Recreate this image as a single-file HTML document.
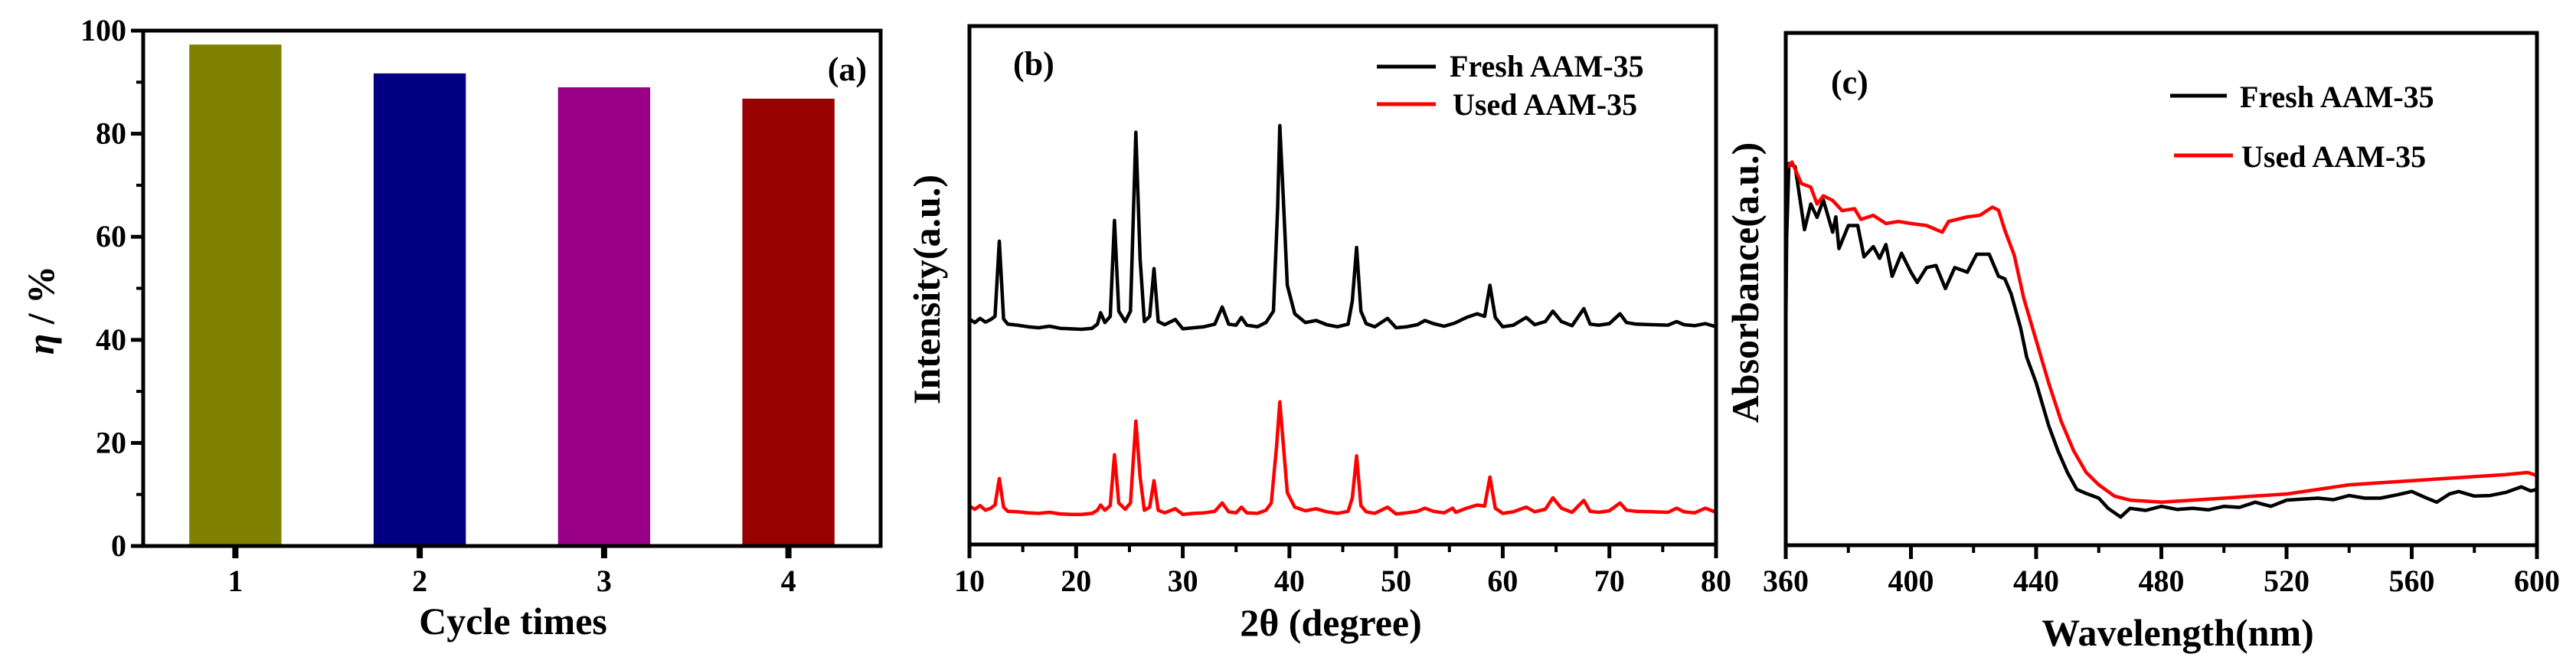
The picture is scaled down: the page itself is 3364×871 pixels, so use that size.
<!DOCTYPE html>
<html><head><meta charset="utf-8"><style>
html,body{margin:0;padding:0;background:#fff;width:3364px;height:871px;overflow:hidden}
svg{display:block}
text{font-family:"Liberation Serif",serif;font-weight:bold;fill:#000}
</style></head><body>
<svg id="fig" width="3364" height="871" viewBox="0 0 3364 871" xmlns="http://www.w3.org/2000/svg"></svg>
<script>
// ---------- Panel (a) data ----------
const cycleCategories = [1, 2, 3, 4];
const efficiencyValues = [97.3, 91.7, 89.0, 86.8];
const barColors = ["#808000", "#000080", "#990087", "#990000"];
const aYTicks = [0, 20, 40, 60, 80, 100];

// ---------- Panel (b) data (2theta, intensity) ----------
const xrdXTicks = [10, 20, 30, 40, 50, 60, 70, 80];
const xrdFresh = [[10,43.5],[10.5,42.8],[11,43.6],[11.5,42.9],[12,43.4],[12.4,44],[12.8,58.5],[13.2,43.5],[13.6,42.5],[14.5,42.3],[15.5,42],[16.5,41.8],[17.5,42.1],[18.5,41.7],[19.5,41.6],[20.5,41.5],[21.5,41.7],[22,42.5],[22.3,44.7],[22.7,42.8],[23.2,44],[23.6,62.5],[24,45],[24.6,43],[25.1,45],[25.6,79.5],[26,55],[26.4,43],[26.9,44],[27.3,53.2],[27.7,43],[28.3,42.4],[29.3,43.4],[30,41.6],[31,41.8],[32,42],[33,42.5],[33.7,45.8],[34.3,42.5],[35,42.3],[35.5,43.8],[36,42.3],[37,42],[37.8,42.8],[38.5,45],[38.9,65],[39.1,80.8],[39.4,68],[39.8,50],[40.5,44.5],[41.5,42.8],[42.5,43.2],[43.5,42.4],[44.5,42],[45.5,42.5],[45.9,47],[46.3,57.3],[46.7,45],[47.2,42.6],[48,42],[49.2,43.6],[50,41.8],[51,42],[52,42.4],[52.7,43.2],[53.5,42.6],[54.5,42.1],[55.5,42.7],[56.6,43.8],[57.6,44.5],[58.3,44],[58.8,50],[59.3,43.8],[60,42],[61,42.3],[62.2,43.8],[63,42.4],[64,43],[64.7,45],[65.5,43],[66.5,42.2],[67.6,45.5],[68.2,42.5],[69,42.3],[70,42.6],[71,44.5],[71.6,42.8],[72.5,42.5],[74,42.4],[75.5,42.3],[76.3,43],[77,42.4],[78,42.2],[79,42.6],[80,42]];
const xrdUsed = [[10,7.4],[10.5,6.8],[11,7.5],[11.5,6.6],[12,7],[12.4,7.6],[12.8,12.7],[13.2,7.2],[13.6,6.4],[14.5,6.3],[15.5,6.1],[16.5,6],[17.5,6.2],[18.5,5.9],[19.5,5.8],[20.5,5.8],[21.5,6],[22,6.6],[22.3,7.6],[22.7,6.6],[23.2,7.5],[23.6,17.3],[24,8],[24.6,6.8],[25.1,8],[25.6,23.8],[26,13],[26.4,6.6],[26.9,7.2],[27.3,12.3],[27.7,6.6],[28.3,6.1],[29.3,6.9],[30,5.8],[31,6],[32,6.1],[33,6.4],[33.7,8],[34.3,6.3],[35,6.1],[35.5,7.2],[36,6.1],[37,6],[37.8,6.6],[38.3,8],[38.8,19],[39.1,27.5],[39.4,20],[39.8,10],[40.5,7.2],[41.5,6.5],[42.5,6.9],[43.5,6.3],[44.5,6],[45.5,6.4],[45.9,9],[46.3,17.1],[46.7,7.5],[47.2,6.3],[48,6],[49.2,7.2],[50,5.9],[51,6.1],[52,6.4],[52.7,7],[53.5,6.4],[54.5,6.1],[55.3,7],[55.6,6.2],[56.6,7],[57.6,7.6],[58.3,7.4],[58.8,13],[59.3,7],[60,6],[61,6.3],[62.2,7.2],[63,6.3],[64,6.8],[64.7,9],[65.5,7],[66.5,6.2],[67.6,8.5],[68.2,6.4],[69,6.2],[70,6.5],[71,8],[71.6,6.6],[72.5,6.4],[74,6.3],[75.5,6.2],[76.3,7],[77,6.3],[78,6.1],[79,7],[80,6.2]];

// ---------- Panel (c) data (wavelength, absorbance) ----------
const uvXTicks = [360, 400, 440, 480, 520, 560, 600];
const uvFresh = [[360,41],[360.3,60],[361,74.5],[363,73.9],[366,61.6],[368,66.6],[370,64],[372,67.4],[375,61.1],[376,64.1],[377,57.9],[380,62.4],[383,62.4],[385,56.3],[388,58.3],[390,56],[392,58.7],[394,52.5],[397,57],[400,53.3],[402,51.3],[405,54.2],[408,54.6],[411,50.1],[414,54.2],[418,53.3],[421,56.8],[425,56.8],[428,52.5],[430,52],[432,49.1],[435,42.5],[437,36.7],[440,31.7],[444,23.4],[447,18.4],[450,14.2],[453,10.9],[456,10.1],[460,9.2],[463,7.2],[467,5.5],[470,7.2],[475,6.8],[480,7.6],[485,7],[490,7.2],[495,6.9],[500,7.6],[505,7.4],[510,8.4],[515,7.6],[520,8.8],[525,9],[530,9.2],[535,8.9],[540,9.7],[545,9.2],[550,9.2],[555,9.8],[560,10.5],[564,9.4],[568,8.4],[572,10],[575,10.5],[580,9.6],[585,9.7],[590,10.3],[595,11.4],[598,10.6],[600,10.9]];
const uvUsed = [[360,73.5],[362,74.8],[365,70.6],[368,69.9],[370,66.6],[372,68.2],[375,67.3],[378,65.3],[382,65.7],[384,63.6],[388,64.4],[392,62.8],[396,63.2],[400,62.8],[405,62.4],[410,61.1],[412,63.2],[418,64.1],[422,64.4],[426,66],[428,65.4],[430,61.5],[433,56.6],[436,48.3],[440,40],[444,31.7],[448,24.2],[452,18.4],[456,14.2],[460,11.8],[465,9.6],[470,8.8],[480,8.4],[490,8.8],[500,9.2],[510,9.6],[520,10],[530,10.9],[540,11.8],[550,12.2],[560,12.6],[570,13],[580,13.4],[590,13.8],[597,14.2],[600,13.6]];

const NS = "http://www.w3.org/2000/svg";
const svg = document.getElementById("fig");
function mk(tag, attrs, parent) {
  const e = document.createElementNS(NS, tag);
  for (const k in attrs) e.setAttribute(k, attrs[k]);
  (parent || svg).appendChild(e);
  return e;
}
function txt(str, attrs, parent) { const t = mk("text", attrs, parent); t.textContent = str; return t; }

// ================= Panel (a) =================
const A = {l:187, r:1150, t:40, b:713};
const ax = v => A.l + (v - 0.5) / 4 * (A.r - A.l);
const ay = v => A.b - v / 100 * (A.b - A.t);
const gA = mk("g", {});


cycleCategories.forEach((c, i) => {
  const w = (ax(1.25) - ax(0.75));
  const r = mk("rect", {x: ax(c) - w/2, y: ay(efficiencyValues[i]), width: w, height: ay(0) - ay(efficiencyValues[i]), fill: barColors[i]}, gA);
  
  
});
const frameA = mk("rect", {x:A.l, y:A.t, width:A.r-A.l, height:A.b-A.t, fill:"none", stroke:"#000", "stroke-width":5}, gA);


aYTicks.forEach(v => {
  mk("line", {x1:A.l-16, x2:A.l, y1:ay(v), y2:ay(v), stroke:"#000", "stroke-width":5}, gA);
  if (v < 100) mk("line", {x1:A.l-9, x2:A.l, y1:ay(v+10), y2:ay(v+10), stroke:"#000", "stroke-width":4}, gA);
  const t = txt(String(v), {x:A.l-22, y:ay(v)+13, "font-size":40, "text-anchor":"end"}, gA);
  
  
});
cycleCategories.forEach(c => {
  mk("line", {x1:ax(c), x2:ax(c), y1:A.b, y2:A.b+16, stroke:"#000", "stroke-width":8}, gA);
  const t = txt(String(c), {x:ax(c), y:772, "font-size":40, "text-anchor":"middle"}, gA);
  
  
});
const atl = txt("Cycle times", {x:670, y:828, "font-size":50, "text-anchor":"middle"}, gA);


const aytl = mk("text", {x:0, y:0, "font-size":50, "text-anchor":"middle", transform:"translate(70,405) rotate(-90)"}, gA);


aytl.innerHTML = '<tspan font-style="italic">η</tspan> / %';
const alab = txt("(a)", {x:1132, y:105, "font-size":44, "text-anchor":"end"}, gA);



// ================= line panel helper =================
function linePanel(P, xmin, xmax, ticks, minorStep, series, name) {
  const g = mk("g", {});
  
  
  const sx = v => P.l + (v - xmin) / (xmax - xmin) * (P.r - P.l);
  const sy = v => P.b - v / 100 * (P.b - P.t);
  series.forEach(s => {
    const p = mk("polyline", {points: s.data.map(d => sx(d[0]).toFixed(1) + "," + sy(d[1]).toFixed(1)).join(" "), fill:"none", stroke:s.color, "stroke-width":4.5, "stroke-linejoin":"round"}, g);
    
    
  });
  const f = mk("rect", {x:P.l, y:P.t, width:P.r-P.l, height:P.b-P.t, fill:"none", stroke:"#000", "stroke-width":5}, g);
  
  
  ticks.forEach((v, i) => {
    mk("line", {x1:sx(v), x2:sx(v), y1:P.b, y2:P.b+18, stroke:"#000", "stroke-width":5}, g);
    if (i < ticks.length - 1) mk("line", {x1:sx(v+minorStep), x2:sx(v+minorStep), y1:P.b, y2:P.b+10, stroke:"#000", "stroke-width":4}, g);
    const t = txt(String(v), {x:sx(v), y:772, "font-size":40, "text-anchor":"middle"}, g);
    
    
  });
  return g;
}

// ================= Panel (b) =================
const B = {l:1266, r:2241, t:34, b:711};
const gB = linePanel(B, 10, 80, xrdXTicks, 5, [
  {data: xrdFresh, color:"#000", name:"fresh-xrd-line"},
  {data: xrdUsed, color:"#ff0000", name:"used-xrd-line"}], "panel-b-xrd-chart");
let t;
t = txt("2θ (degree)", {x:1738, y:830, "font-size":50, "text-anchor":"middle"}, gB);
 
t = txt("Intensity(a.u.)", {x:0, y:0, "font-size":50, "text-anchor":"middle", transform:"translate(1227,378) rotate(-90)"}, gB);
 
t = txt("(b)", {x:1323, y:98, "font-size":44}, gB);
 
const legB = mk("g", {}, gB);
 
mk("line", {x1:1798, x2:1875, y1:87, y2:87, stroke:"#000", "stroke-width":5}, legB);
t = txt("Fresh AAM-35", {x:1893, y:100, "font-size":40}, legB);
 
mk("line", {x1:1798, x2:1875, y1:136, y2:136, stroke:"#ff0000", "stroke-width":5}, legB);
t = txt("Used AAM-35", {x:1897, y:150, "font-size":40}, legB);
 

// ================= Panel (c) =================
const C = {l:2332, r:3313, t:43, b:712};
const gC = linePanel(C, 360, 600, uvXTicks, 20, [
  {data: uvFresh, color:"#000", name:"fresh-uv-line"},
  {data: uvUsed, color:"#ff0000", name:"used-uv-line"}], "panel-c-uv-chart");
t = txt("Wavelength(nm)", {x:2844, y:843, "font-size":50, "text-anchor":"middle"}, gC);
 
t = txt("Absorbance(a.u.)", {x:0, y:0, "font-size":50, "text-anchor":"middle", transform:"translate(2296,369) rotate(-90)"}, gC);
 
t = txt("(c)", {x:2391, y:122, "font-size":44}, gC);
 
const legC = mk("g", {}, gC);
 
mk("line", {x1:2834, x2:2908, y1:125, y2:125, stroke:"#000", "stroke-width":5}, legC);
t = txt("Fresh AAM-35", {x:2925, y:140, "font-size":40}, legC);
 
mk("line", {x1:2839, x2:2916, y1:203, y2:203, stroke:"#ff0000", "stroke-width":5}, legC);
t = txt("Used AAM-35", {x:2927, y:218, "font-size":40}, legC);
 
</script>
</body></html>
